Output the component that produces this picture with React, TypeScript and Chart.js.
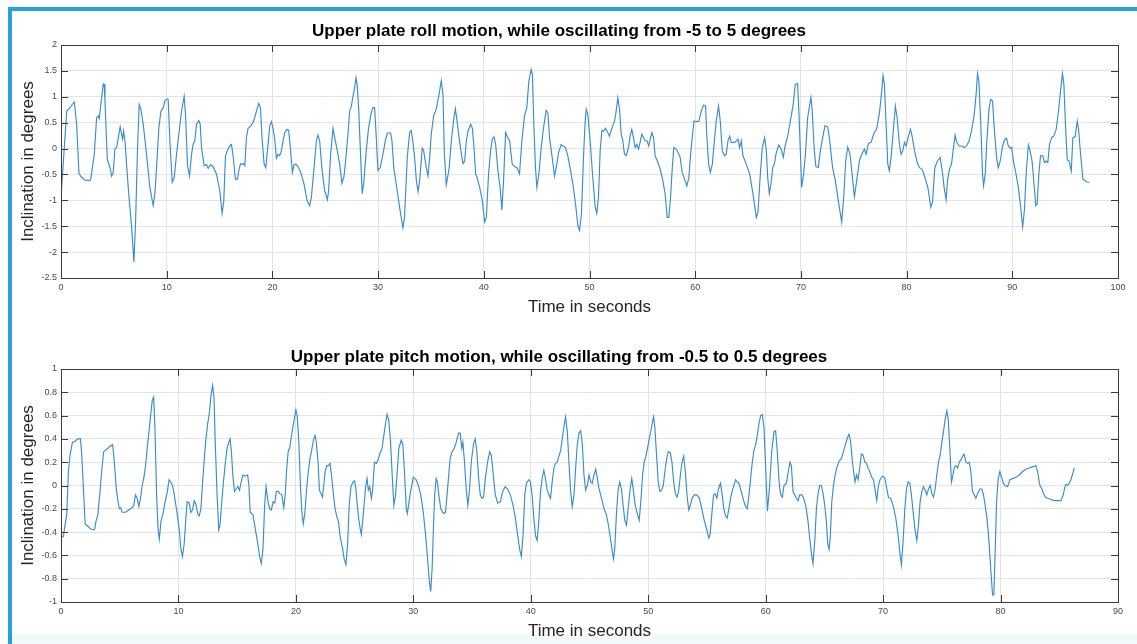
import React, { useEffect, useRef } from 'react';
import { Chart, registerables } from 'chart.js';

Chart.register(...registerables);

// ---------- Roll (upper plot) ----------
const rollTitle = 'Upper plate roll motion, while oscillating from -5 to 5 degrees';
const rollXRange = [0, 100, 10];
const rollYRange = [-2.5, 2, 0.5];
const rollTime = [
  0, 0.54, 0.85, 1.17, 1.26, 1.48, 1.70, 1.89, 2.27, 2.74,
  2.83, 3.15, 3.37, 3.53, 3.62, 3.84, 4.0, 4.09, 4.16, 4.38,
  4.63, 4.79, 4.94, 5.1, 5.26, 5.48, 5.6, 5.73, 5.83, 5.92,
  6.05, 6.36, 6.68, 6.9, 7.06, 7.24, 7.4, 7.56, 7.78, 8.09,
  8.41, 8.72, 8.88, 9.04, 9.26, 9.45, 9.67, 9.83, 10.05, 10.14,
  10.30, 10.52, 10.71, 10.93, 11.15, 11.4, 11.65, 11.78, 11.97, 12.16,
  12.35, 12.5, 12.66, 12.82, 13.04, 13.17, 13.29, 13.54, 13.76, 13.92,
  14.14, 14.39, 14.71, 15.02, 15.24, 15.4, 15.56, 15.81, 16.03, 16.13,
  16.28, 16.5, 16.69, 16.82, 16.98, 17.13, 17.29, 17.39, 17.54, 17.7,
  17.86, 18.08, 18.27, 18.49, 18.71, 18.87, 19.02, 19.21, 19.37, 19.53,
  19.75, 19.91, 20.06, 20.22, 20.38, 20.54, 20.69, 20.85, 21.01, 21.17,
  21.39, 21.54, 21.7, 21.89, 22.05, 22.24, 22.43, 22.68, 23.0, 23.28,
  23.53, 23.69, 23.94, 24.16, 24.31, 24.47, 24.69, 24.94, 25.2, 25.32,
  25.51, 25.73, 25.89, 26.14, 26.36, 26.58, 26.77, 26.9, 27.15, 27.31,
  27.47, 27.62, 27.78, 27.91, 28.03, 28.16, 28.35, 28.5, 28.66, 28.88,
  29.1, 29.35, 29.51, 29.67, 29.83, 29.98, 30.2, 30.46, 30.68, 30.87,
  31.18, 31.31, 31.5, 31.72, 32.03, 32.35, 32.5, 32.76, 32.98, 33.13,
  33.3, 33.45, 33.62, 33.78, 33.93, 34.18, 34.31, 34.5, 34.72, 34.88,
  35.03, 35.25, 35.5, 35.76, 35.98, 36.14, 36.27, 36.45, 36.71, 36.93,
  37.15, 37.31, 37.47, 37.66, 37.88, 38.03, 38.19, 38.35, 38.51, 38.76,
  38.92, 39.07, 39.23, 39.36, 39.61, 39.86, 40.08, 40.24, 40.45, 40.64,
  40.8, 40.96, 41.12, 41.34, 41.56, 41.71, 41.87, 42.06, 42.28, 42.44,
  42.69, 42.94, 43.13, 43.38, 43.6, 43.85, 44.07, 44.26, 44.48, 44.6,
  44.73, 44.89, 45.02, 45.21, 45.43, 45.65, 45.9, 46.06, 46.22, 46.47,
  46.69, 46.85, 47.07, 47.32, 47.48, 47.73, 47.95, 48.21, 48.43, 48.68,
  48.9, 49.05, 49.24, 49.43, 49.59, 49.69, 49.84, 50.06, 50.31, 50.54,
  50.69, 50.85, 51.01, 51.17, 51.32, 51.51, 51.73, 51.89, 52.11, 52.37,
  52.52, 52.68, 52.84, 53.0, 53.15, 53.31, 53.47, 53.69, 53.84, 54.0,
  54.16, 54.32, 54.48, 54.64, 54.79, 54.95, 55.11, 55.27, 55.43, 55.61,
  55.74, 55.9, 56.06, 56.21, 56.47, 56.69, 56.94, 57.16, 57.35, 57.51,
  57.67, 57.83, 57.98, 58.2, 58.39, 58.58, 58.77, 58.99, 59.21, 59.4,
  59.56, 59.72, 59.88, 60.1, 60.35, 60.57, 60.79, 60.98, 61.11, 61.27,
  61.43, 61.62, 61.84, 61.99, 62.21, 62.37, 62.56, 62.78, 62.94, 63.1,
  63.26, 63.41, 63.73, 64.05, 64.2, 64.36, 64.52, 64.83, 65.15, 65.47,
  65.78, 65.94, 66.16, 66.35, 66.57, 66.73, 66.86, 67.01, 67.17, 67.33,
  67.49, 67.64, 67.9, 68.12, 68.34, 68.5, 68.75, 69.0, 69.25, 69.47,
  69.69, 69.82, 70.07, 70.26, 70.42, 70.64, 70.95, 71.05, 71.27, 71.42,
  71.65, 71.84, 72.06, 72.28, 72.53, 72.69, 73.0, 73.26, 73.54, 73.86,
  74.05, 74.24, 74.43, 74.65, 74.84, 75.06, 75.28, 75.53, 75.76, 76.01,
  76.17, 76.39, 76.64, 76.89, 77.18, 77.43, 77.65, 77.77, 77.9, 78.06,
  78.22, 78.37, 78.53, 78.79, 78.94, 79.1, 79.32, 79.48, 79.64, 79.8,
  79.95, 80.18, 80.37, 80.52, 80.75, 81.0, 81.22, 81.47, 81.69, 82.01,
  82.29, 82.45, 82.67, 82.92, 83.17, 83.39, 83.55, 83.74, 83.87, 84.06,
  84.25, 84.4, 84.59, 84.75, 84.98, 85.2, 85.45, 85.67, 85.92, 86.14,
  86.4, 86.59, 86.71, 86.84, 87.02, 87.18, 87.28, 87.44, 87.59, 87.81,
  87.97, 88.13, 88.29, 88.51, 88.67, 88.86, 89.08, 89.3, 89.46, 89.62,
  89.81, 89.94, 90.13, 90.35, 90.57, 90.76, 90.98, 91.14, 91.33, 91.52,
  91.68, 91.87, 92.03, 92.22, 92.35, 92.51, 92.67, 92.89, 93.05, 93.2,
  93.36, 93.52, 93.74, 93.93, 94.15, 94.37, 94.56, 94.75, 94.88, 95.04,
  95.2, 95.36, 95.58, 95.73, 95.95, 96.14, 96.27, 96.46, 96.68, 96.9,
  97.09, 97.31,
];
const rollDeg = [
  -0.94, 0.72, 0.79, 0.88, 0.90, 0.47, -0.48, -0.54, -0.61, -0.62,
  -0.57, -0.11, 0.60, 0.63, 0.58, 0.98, 1.25, 1.24, 0.92, -0.21,
  -0.37, -0.53, -0.46, -0.01, 0.02, 0.28, 0.42, 0.28, 0.18, 0.34,
  0.15, -0.75, -1.52, -2.19, -1.39, 0.02, 0.85, 0.76, 0.47, -0.11,
  -0.75, -1.10, -0.88, -0.37, 0.40, 0.72, 0.79, 0.92, 0.96, 0.95,
  0.15, -0.65, -0.56, -0.11, 0.28, 0.72, 1.01, 0.66, -0.33, -0.53,
  -0.11, 0.08, 0.15, 0.47, 0.54, 0.47, 0.02, -0.33, -0.31, -0.38,
  -0.31, -0.35, -0.49, -0.81, -1.25, -1.01, -0.14, -0.01, 0.07, 0.08,
  -0.14, -0.59, -0.59, -0.43, -0.29, -0.31, -0.29, -0.33, 0.21, 0.39,
  0.42, 0.47, 0.56, 0.72, 0.87, 0.79, 0.21, -0.29, -0.37, -0.04,
  0.44, 0.52, 0.39, 0.18, -0.19, -0.11, -0.14, -0.04, 0.15, 0.31,
  0.37, 0.35, 0.02, -0.46, -0.31, -0.30, -0.35, -0.46, -0.69, -1.01,
  -1.10, -0.94, -0.37, 0.15, 0.26, 0.15, -0.40, -0.81, -0.99, -0.81,
  -0.11, 0.39, 0.21, -0.04, -0.30, -0.67, -0.54, -0.30, 0.28, 0.72,
  0.82, 1.01, 1.17, 1.37, 1.21, 0.79, -0.17, -0.87, -0.62, -0.04,
  0.40, 0.69, 0.79, 0.79, 0.21, -0.42, -0.37, -0.11, 0.15, 0.30,
  0.30, 0.15, -0.40, -0.69, -1.13, -1.53, -1.33, -0.17, 0.31, 0.35,
  0.12, -0.17, -0.62, -0.83, -0.62, 0.01, -0.04, -0.30, -0.53, -0.17,
  0.28, 0.63, 0.76, 1.04, 1.31, 1.04, -0.11, -0.70, -0.40, 0.15,
  0.56, 0.77, 0.53, 0.21, -0.11, -0.29, -0.24, 0.15, 0.34, 0.47,
  0.39, 0.02, -0.49, -0.56, -0.75, -1.01, -1.42, -1.33, -0.49, -0.04,
  0.18, 0.23, 0.08, -0.43, -0.78, -1.19, -0.62, 0.31, 0.21, 0.15,
  -0.30, -0.35, -0.37, -0.49, 0.15, 0.63, 0.79, 1.30, 1.53, 1.43,
  0.47, -0.37, -0.75, -0.49, 0.02, 0.40, 0.74, 0.69, 0.21, -0.17,
  -0.53, -0.37, -0.08, 0.08, 0.05, 0.02, -0.14, -0.43, -0.69, -1.07,
  -1.49, -1.58, -1.26, -0.17, 0.53, 0.76, 0.66, 0.15, -0.56, -1.13,
  -1.25, -0.94, -0.04, 0.35, 0.33, 0.39, 0.31, 0.24, 0.39, 0.53,
  0.72, 0.98, 0.76, 0.28, 0.15, -0.11, -0.14, 0.02, 0.24, 0.37,
  0.21, 0.02, 0.08, -0.01, 0.12, 0.28, 0.21, 0.15, 0.15, 0.05,
  0.18, 0.31, 0.21, -0.14, -0.27, -0.40, -0.62, -0.88, -1.33, -1.33,
  -0.94, -0.37, 0.02, -0.01, -0.08, -0.17, -0.46, -0.59, -0.72, -0.56,
  -0.11, 0.21, 0.53, 0.52, 0.53, 0.72, 0.84, 0.82, 0.21, -0.30,
  -0.46, -0.30, 0.21, 0.53, 0.82, 0.53, -0.04, -0.14, -0.11, 0.15,
  0.24, 0.12, 0.12, 0.18, 0.02, 0.15, -0.14, -0.30, -0.49, -0.88,
  -1.33, -1.23, -0.49, 0.02, 0.21, -0.04, -0.56, -0.87, -0.69, -0.37,
  -0.30, -0.11, 0.07, -0.01, -0.17, 0.05, 0.24, 0.53, 0.82, 1.24,
  1.26, 0.66, -0.75, -0.49, -0.14, 0.60, 0.99, 0.79, -0.04, -0.35,
  -0.37, -0.04, 0.21, 0.44, 0.42, 0.21, -0.37, -0.62, -1.01, -1.42,
  -0.94, -0.24, 0.03, -0.11, -0.49, -0.93, -0.62, -0.24, -0.11, -0.01,
  -0.11, 0.10, 0.12, 0.28, 0.39, 0.69, 1.11, 1.41, 1.24, 0.47,
  -0.30, -0.43, -0.17, 0.47, 0.82, 0.60, 0.08, -0.11, -0.04, 0.12,
  0.05, 0.24, 0.37, 0.24, -0.04, -0.27, -0.37, -0.40, -0.53, -0.75,
  -1.13, -1.04, -0.37, -0.24, -0.17, -0.46, -0.75, -0.99, -0.62, -0.40,
  -0.30, -0.04, 0.26, 0.12, 0.05, 0.05, 0.02, 0.05, 0.15, 0.34,
  0.66, 1.08, 1.45, 1.30, 0.47, -0.49, -0.72, -0.49, 0.15, 0.79,
  0.95, 0.92, 0.40, -0.17, -0.37, -0.24, 0.05, 0.18, 0.20, 0.05,
  0.01, 0.02, -0.27, -0.49, -0.75, -1.07, -1.51, -1.20, -0.43, 0.07,
  -0.04, -0.24, -0.62, -1.10, -1.07, -0.49, -0.14, -0.14, -0.27, -0.24,
  -0.27, 0.08, 0.22, 0.24, 0.37, 0.72, 1.11, 1.45, 1.24, 0.40,
  -0.22, -0.24, -0.43, 0.21, 0.23, 0.53, 0.37, -0.11, -0.59, -0.62,
  -0.65, -0.65,
];

// ---------- Pitch (lower plot) ----------
const pitchTitle = 'Upper plate pitch motion, while oscillating from -0.5 to 0.5 degrees';
const pitchXRange = [0, 90, 10];
const pitchYRange = [-1, 1, 0.2];
const pitchTime = [
  0, 0.2, 0.34, 0.49, 0.63, 0.77, 0.97, 1.2, 1.43, 1.66,
  1.77, 1.91, 2.06, 2.29, 2.49, 2.69, 2.86, 2.97, 3.14, 3.34,
  3.49, 3.63, 3.77, 4.0, 4.2, 4.4, 4.54, 4.71, 4.86, 4.97,
  5.09, 5.2, 5.49, 5.77, 6.06, 6.2, 6.34, 6.49, 6.63, 6.77,
  6.91, 7.06, 7.2, 7.34, 7.49, 7.63, 7.77, 7.89, 8.0, 8.14,
  8.26, 8.37, 8.51, 8.69, 8.86, 9.06, 9.2, 9.34, 9.49, 9.63,
  9.83, 10.06, 10.2, 10.34, 10.49, 10.63, 10.74, 10.91, 11.06, 11.2,
  11.34, 11.49, 11.63, 11.77, 11.91, 12.06, 12.2, 12.34, 12.49, 12.63,
  12.77, 12.91, 13.03, 13.14, 13.29, 13.43, 13.54, 13.69, 13.83, 14.0,
  14.14, 14.29, 14.4, 14.51, 14.63, 14.77, 14.91, 15.06, 15.2, 15.34,
  15.49, 15.71, 15.89, 16.0, 16.11, 16.34, 16.54, 16.77, 16.91, 17.06,
  17.2, 17.34, 17.46, 17.63, 17.77, 17.91, 18.06, 18.2, 18.34, 18.49,
  18.63, 18.8, 18.97, 19.09, 19.2, 19.34, 19.49, 19.63, 19.83, 20.0,
  20.11, 20.26, 20.4, 20.51, 20.63, 20.77, 20.91, 21.06, 21.2, 21.34,
  21.49, 21.63, 21.74, 21.89, 22.0, 22.14, 22.26, 22.34, 22.49, 22.63,
  22.77, 22.91, 23.06, 23.2, 23.34, 23.49, 23.63, 23.77, 23.97, 24.11,
  24.26, 24.4, 24.54, 24.69, 24.86, 25.0, 25.11, 25.2, 25.34, 25.49,
  25.57, 25.71, 25.83, 25.94, 26.06, 26.17, 26.29, 26.43, 26.54, 26.69,
  26.86, 27.0, 27.14, 27.34, 27.49, 27.63, 27.77, 27.91, 28.06, 28.2,
  28.34, 28.49, 28.63, 28.77, 28.97, 29.11, 29.26, 29.4, 29.49, 29.63,
  29.77, 30.0, 30.23, 30.43, 30.63, 30.85, 31.05, 31.23, 31.37, 31.48,
  31.6, 31.71, 31.82, 31.94, 32.05, 32.17, 32.34, 32.56, 32.74, 32.85,
  32.99, 33.13, 33.3, 33.48, 33.65, 33.85, 33.99, 34.13, 34.22, 34.36,
  34.5, 34.64, 34.79, 34.93, 35.13, 35.27, 35.41, 35.56, 35.7, 35.84,
  35.98, 36.13, 36.32, 36.5, 36.64, 36.78, 36.98, 37.18, 37.41, 37.61,
  37.83, 38.03, 38.26, 38.49, 38.69, 38.89, 39.06, 39.2, 39.34, 39.49,
  39.63, 39.83, 39.97, 40.11, 40.26, 40.4, 40.54, 40.68, 40.83, 40.97,
  41.11, 41.25, 41.4, 41.54, 41.68, 41.82, 41.97, 42.11, 42.25, 42.39,
  42.54, 42.68, 42.82, 42.96, 43.11, 43.25, 43.39, 43.53, 43.68, 43.82,
  43.96, 44.1, 44.25, 44.39, 44.53, 44.67, 44.82, 44.96, 45.1, 45.24,
  45.38, 45.53, 45.67, 45.81, 45.95, 46.1, 46.24, 46.44, 46.61, 46.75,
  46.9, 47.04, 47.15, 47.29, 47.44, 47.58, 47.72, 47.86, 48.01, 48.15,
  48.29, 48.46, 48.6, 48.75, 48.89, 49.09, 49.23, 49.37, 49.52, 49.66,
  49.8, 49.94, 50.09, 50.23, 50.37, 50.46, 50.57, 50.71, 50.85, 51.0,
  51.14, 51.28, 51.42, 51.57, 51.71, 51.88, 52.02, 52.17, 52.31, 52.45,
  52.59, 52.74, 52.88, 53.02, 53.16, 53.3, 53.45, 53.59, 53.73, 53.93,
  54.13, 54.36, 54.56, 54.79, 54.99, 55.16, 55.27, 55.41, 55.56, 55.7,
  55.84, 55.98, 56.15, 56.3, 56.44, 56.58, 56.72, 56.87, 57.01, 57.15,
  57.29, 57.44, 57.58, 57.72, 57.86, 58.0, 58.15, 58.29, 58.43, 58.58,
  58.72, 58.86, 59.0, 59.15, 59.29, 59.43, 59.57, 59.72, 59.86, 60.0,
  60.15, 60.34, 60.51, 60.71, 60.85, 60.99, 61.14, 61.28, 61.42, 61.56,
  61.76, 61.93, 62.07, 62.19, 62.33, 62.47, 62.61, 62.76, 62.9, 63.07,
  63.24, 63.41, 63.61, 63.78, 63.92, 64.03, 64.18, 64.32, 64.46, 64.6,
  64.74, 64.89, 65.03, 65.17, 65.28, 65.4, 65.51, 65.63, 65.77, 65.91,
  66.05, 66.25, 66.45, 66.62, 66.82, 66.96, 67.1, 67.24, 67.39, 67.53,
  67.61, 67.73, 67.87, 68.01, 68.15, 68.3, 68.44, 68.58, 68.72, 68.86,
  69.03, 69.18, 69.32, 69.46, 69.6, 69.74, 69.94, 70.14, 70.28, 70.45,
  70.65, 70.85, 71.08, 71.28, 71.45, 71.56, 71.7, 71.85, 71.99, 72.13,
  72.27, 72.41, 72.56, 72.7, 72.87, 73.01, 73.15, 73.3, 73.44, 73.58,
  73.72, 73.86, 74.01, 74.15, 74.29, 74.43, 74.57, 74.72, 74.86, 75.0,
  75.14, 75.28, 75.43, 75.54, 75.68, 75.82, 75.91, 76.05, 76.19, 76.34,
  76.48, 76.62, 76.76, 76.9, 77.05, 77.19, 77.33, 77.47, 77.61, 77.76,
  77.9, 78.04, 78.24, 78.41, 78.55, 78.69, 78.84, 78.98, 79.09, 79.2,
  79.32, 79.43, 79.55, 79.66, 79.8, 79.94, 80.09, 80.23, 80.4, 80.6,
  80.8, 81.02, 81.31, 81.59, 81.88, 82.16, 82.44, 82.73, 83.01, 83.15,
  83.35, 83.52, 83.66, 83.81, 84.0, 84.29, 84.57, 84.94, 85.14, 85.34,
  85.48, 85.57, 85.71, 85.85, 85.99, 86.14, 86.28,
];
const pitchDeg = [
  -0.44, -0.44, -0.34, -0.25, 0.12, 0.26, 0.37, 0.38, 0.40, 0.40,
  0.26, -0.03, -0.33, -0.35, -0.37, -0.38, -0.38, -0.31, -0.25, -0.03,
  0.15, 0.29, 0.30, 0.32, 0.34, 0.35, 0.20, -0.03, -0.14, -0.20,
  -0.19, -0.23, -0.23, -0.21, -0.19, -0.17, -0.08, -0.11, -0.18, -0.11,
  0.0, 0.07, 0.17, 0.32, 0.46, 0.60, 0.73, 0.76, 0.49, -0.08,
  -0.37, -0.46, -0.31, -0.24, -0.14, -0.05, 0.05, 0.03, 0.0, -0.07,
  -0.20, -0.37, -0.54, -0.61, -0.50, -0.28, -0.14, -0.15, -0.23, -0.21,
  -0.13, -0.16, -0.24, -0.26, -0.20, 0.03, 0.23, 0.40, 0.53, 0.62,
  0.77, 0.86, 0.75, 0.35, -0.08, -0.38, -0.34, -0.14, 0.03, 0.20,
  0.32, 0.37, 0.40, 0.29, 0.09, -0.05, -0.03, -0.01, -0.04, 0.03,
  0.09, 0.08, 0.09, 0.0, -0.23, -0.25, -0.37, -0.51, -0.61, -0.67,
  -0.54, -0.17, -0.01, -0.14, -0.20, -0.21, -0.14, -0.15, -0.05, -0.05,
  -0.07, -0.08, -0.19, -0.08, 0.12, 0.29, 0.33, 0.43, 0.55, 0.65,
  0.60, 0.35, -0.03, -0.23, -0.33, -0.23, -0.03, 0.12, 0.23, 0.30,
  0.39, 0.43, 0.37, 0.20, -0.04, -0.07, -0.10, -0.03, 0.12, 0.17,
  0.17, 0.19, 0.06, -0.08, -0.20, -0.27, -0.31, -0.44, -0.54, -0.63,
  -0.68, -0.51, -0.17, -0.01, 0.03, 0.04, -0.03, -0.14, -0.28, -0.38,
  -0.42, -0.28, -0.14, -0.01, 0.06, -0.04, -0.01, -0.11, -0.03, 0.20,
  0.19, 0.22, 0.27, 0.32, 0.43, 0.53, 0.61, 0.56, 0.37, 0.09,
  -0.17, -0.08, 0.12, 0.32, 0.39, 0.35, 0.09, -0.20, -0.24, -0.14,
  -0.05, 0.07, 0.05, 0.0, -0.08, -0.23, -0.43, -0.65, -0.83, -0.91,
  -0.71, -0.37, -0.08, 0.06, 0.03, -0.08, -0.20, -0.24, -0.23, -0.11,
  0.06, 0.23, 0.29, 0.32, 0.37, 0.45, 0.45, 0.32, 0.37, 0.20,
  -0.03, -0.17, -0.03, 0.20, 0.36, 0.40, 0.29, 0.06, -0.08, -0.11,
  -0.10, 0.06, 0.20, 0.29, 0.26, 0.12, -0.08, -0.15, -0.14, -0.05,
  -0.01, -0.03, -0.08, -0.17, -0.28, -0.43, -0.55, -0.61, -0.43, -0.08,
  0.02, 0.05, 0.03, -0.08, -0.28, -0.43, -0.47, -0.31, -0.05, 0.06,
  0.13, 0.06, -0.04, -0.08, -0.11, 0.03, 0.15, 0.19, 0.20, 0.25,
  0.30, 0.40, 0.50, 0.59, 0.46, 0.20, -0.05, -0.18, -0.08, 0.15,
  0.35, 0.45, 0.47, 0.35, 0.09, -0.04, 0.0, 0.09, 0.03, 0.02,
  0.09, 0.14, 0.06, -0.03, -0.08, -0.14, -0.20, -0.25, -0.34, -0.43,
  -0.54, -0.63, -0.54, -0.25, -0.03, 0.03, -0.03, -0.17, -0.30, -0.34,
  -0.20, -0.03, 0.06, -0.05, -0.17, -0.25, -0.30, -0.14, 0.09, 0.20,
  0.25, 0.32, 0.40, 0.47, 0.55, 0.59, 0.49, 0.26, 0.03, -0.05,
  -0.04, 0.0, 0.12, 0.23, 0.29, 0.28, 0.20, 0.03, -0.07, -0.10,
  -0.05, 0.09, 0.20, 0.25, 0.12, -0.08, -0.21, -0.17, -0.11, -0.08,
  -0.08, -0.11, -0.20, -0.31, -0.38, -0.45, -0.42, -0.25, -0.08, -0.07,
  -0.11, -0.03, 0.02, -0.08, -0.20, -0.26, -0.28, -0.20, -0.11, -0.05,
  0.0, 0.05, 0.03, 0.02, -0.03, -0.08, -0.14, -0.18, -0.20, -0.08,
  0.06, 0.20, 0.30, 0.35, 0.43, 0.53, 0.60, 0.61, 0.49, 0.15,
  -0.22, 0.0, 0.29, 0.46, 0.47, 0.29, 0.03, -0.08, -0.10, 0.0,
  0.02, 0.12, 0.20, 0.17, -0.05, -0.08, -0.11, -0.13, -0.08, -0.08,
  -0.11, -0.17, -0.31, -0.48, -0.60, -0.67, -0.48, -0.20, -0.07, 0.0,
  0.0, -0.07, -0.17, -0.31, -0.50, -0.55, -0.43, -0.14, 0.0, 0.09,
  0.15, 0.21, 0.23, 0.29, 0.36, 0.41, 0.44, 0.37, 0.20, 0.09,
  0.03, 0.09, 0.05, 0.15, 0.27, 0.26, 0.20, 0.19, 0.15, 0.12,
  0.07, 0.05, -0.04, -0.13, 0.0, 0.05, 0.08, 0.07, -0.01, -0.10,
  -0.11, -0.17, -0.28, -0.43, -0.60, -0.68, -0.48, -0.20, -0.03, 0.03,
  0.02, -0.08, -0.23, -0.37, -0.47, -0.34, -0.14, -0.05, -0.01, -0.04,
  -0.08, -0.03, 0.0, -0.07, -0.10, -0.03, 0.09, 0.20, 0.26, 0.37,
  0.46, 0.57, 0.64, 0.57, 0.32, 0.03, 0.07, 0.15, 0.17, 0.15,
  0.20, 0.22, 0.25, 0.27, 0.20, 0.19, 0.20, 0.12, -0.05, -0.08,
  -0.11, -0.07, -0.03, -0.03, -0.08, -0.17, -0.28, -0.43, -0.60, -0.77,
  -0.94, -0.94, -0.54, -0.14, 0.06, 0.12, 0.07, 0.02, 0.0, -0.01,
  0.05, 0.06, 0.07, 0.09, 0.12, 0.14, 0.15, 0.16, 0.17, 0.12,
  0.0, -0.03, -0.07, -0.10, -0.11, -0.12, -0.13, -0.13, -0.13, -0.08,
  -0.01, 0.01, 0.0, 0.02, 0.05, 0.10, 0.15,
];

const xAxisLabel = 'Time in seconds';
const yAxisLabel = 'Inclination in degrees';

const FONT = "'Liberation Sans', Arial, Helvetica, sans-serif";
const LINE_COLOR = '#3a8ccc';
const GRID_COLOR = '#e3e3e3';
const BOX_COLOR = '#3c3c3c';
const TICK_TEXT = '#4a4a4a';

// MATLAB-style number formatting: no trailing zeros (2, 1.5, 0, -0.2 ...)
const fmtTick = (v: number | string) => String(Math.round(Number(v) * 1000) / 1000);

// MATLAB-like box with inward ticks on all four sides
const matlabBox = {
  id: 'matlabBox',
  afterDatasetsDraw(chart: any) {
    const { ctx, chartArea: a, scales } = chart;
    const L = 7;
    ctx.save();
    ctx.strokeStyle = BOX_COLOR;
    ctx.lineWidth = 1;
    ctx.beginPath();
    scales.x.ticks.forEach((t: any) => {
      const px = Math.round(scales.x.getPixelForValue(t.value)) + 0.5;
      ctx.moveTo(px, a.bottom);
      ctx.lineTo(px, a.bottom - L);
      ctx.moveTo(px, a.top);
      ctx.lineTo(px, a.top + L);
    });
    scales.y.ticks.forEach((t: any) => {
      const py = Math.round(scales.y.getPixelForValue(t.value)) + 0.5;
      ctx.moveTo(a.left, py);
      ctx.lineTo(a.left + L, py);
      ctx.moveTo(a.right, py);
      ctx.lineTo(a.right - L, py);
    });
    ctx.stroke();
    ctx.strokeRect(Math.round(a.left) + 0.5, Math.round(a.top) + 0.5, Math.round(a.right - a.left), Math.round(a.bottom - a.top));
    ctx.restore();
  },
};

type PanelProps = {
  top: number;
  time: number[];
  deg: number[];
  title: string;
  xRange: number[];
  yRange: number[];
  titlePad: { top: number; bottom: number };
  xAxisHeight: number;
  xTickPad: number;
  xTitlePadBottom: number;
};

function Panel(p: PanelProps) {
  const ref = useRef<HTMLCanvasElement>(null);
  useEffect(() => {
    const n = Math.min(p.time.length, p.deg.length);
    const points = [] as { x: number; y: number }[];
    for (let i = 0; i < n; i++) points.push({ x: p.time[i], y: p.deg[i] });
    const chart = new Chart(ref.current as HTMLCanvasElement, {
      type: 'line',
      data: {
        datasets: [
          {
            data: points,
            borderColor: LINE_COLOR,
            borderWidth: 1.15,
            pointRadius: 0,
            tension: 0,
            fill: false,
          },
        ],
      },
      options: {
        animation: false,
        responsive: false,
        devicePixelRatio: 1,
        events: [],
        layout: { padding: { left: 0, right: 19, top: 0, bottom: 0 } },
        plugins: {
          legend: { display: false },
          tooltip: { enabled: false },
          title: {
            display: true,
            text: p.title,
            color: '#000',
            font: { family: FONT, size: 17, weight: 'bold', lineHeight: 1.2 },
            padding: p.titlePad,
          },
        },
        scales: {
          x: {
            type: 'linear',
            min: p.xRange[0],
            max: p.xRange[1],
            ticks: {
              stepSize: p.xRange[2],
              color: TICK_TEXT,
              font: { family: FONT, size: 9 },
              padding: p.xTickPad,
              maxRotation: 0,
              autoSkip: false,
              callback: fmtTick,
            },
            grid: { color: GRID_COLOR, drawTicks: false },
            border: { display: false },
            title: {
              display: true,
              text: xAxisLabel,
              color: '#262626',
              font: { family: FONT, size: 17, lineHeight: 1.2 },
              padding: { top: 0, bottom: p.xTitlePadBottom },
            },
            afterFit: (s: any) => {
              s.height = p.xAxisHeight;
            },
          },
          y: {
            type: 'linear',
            min: p.yRange[0],
            max: p.yRange[1],
            ticks: {
              stepSize: p.yRange[2],
              color: TICK_TEXT,
              font: { family: FONT, size: 9 },
              padding: 4,
              autoSkip: false,
              callback: fmtTick,
            },
            grid: { color: GRID_COLOR, drawTicks: false },
            border: { display: false },
            title: {
              display: true,
              text: yAxisLabel,
              color: '#262626',
              font: { family: FONT, size: 17, lineHeight: 1.2 },
              padding: { top: 18, bottom: 0 },
            },
            afterFit: (s: any) => {
              s.width = 61;
            },
          },
        },
      } as any,
      plugins: [matlabBox],
    });
    return () => chart.destroy();
  }, []);
  return (
    <canvas
      ref={ref}
      width={1137}
      height={322}
      style={{ position: 'absolute', left: 0, top: p.top, width: 1137, height: 322 }}
    />
  );
}

export default function App() {
  return (
    <div
      style={{
        position: 'absolute',
        left: 0,
        top: 0,
        width: 1137,
        height: 644,
        background: '#ffffff',
        overflow: 'hidden',
      }}
    >
      <div style={{ position: 'absolute', left: 12, top: 634, width: 1125, height: 10, background: '#f1f9fb' }} />
      <Panel
        top={0}
        time={rollTime}
        deg={rollDeg}
        title={rollTitle}
        xRange={rollXRange}
        yRange={rollYRange}
        titlePad={{ top: 20.8, bottom: 3.8 }}
        xAxisHeight={44}
        xTickPad={4}
        xTitlePadBottom={4.8}
      />
      <Panel
        top={322}
        time={pitchTime}
        deg={pitchDeg}
        title={pitchTitle}
        xRange={pitchXRange}
        yRange={pitchYRange}
        titlePad={{ top: 24.8, bottom: 1.8 }}
        xAxisHeight={42}
        xTickPad={4.6}
        xTitlePadBottom={2.8}
      />
      <div style={{ position: 'absolute', left: 8, top: 7, width: 4, height: 637, background: '#27a0df' }} />
      <div style={{ position: 'absolute', left: 8, top: 7, width: 1129, height: 4, background: '#27a0df' }} />
    </div>
  );
}
